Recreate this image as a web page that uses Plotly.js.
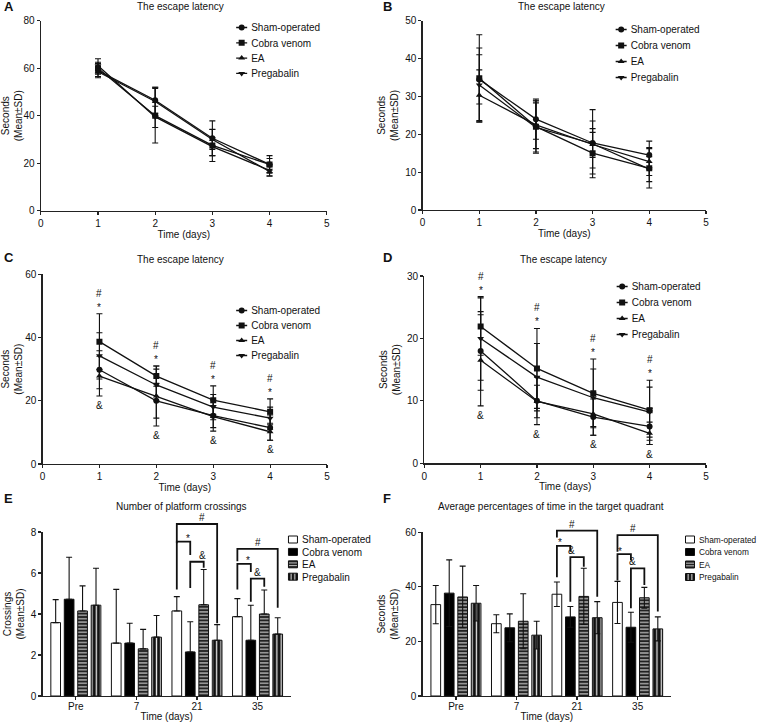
<!DOCTYPE html>
<html><head><meta charset="utf-8">
<script src="https://cdn.plot.ly/plotly-3.0.1.min.js"></script>
<style>html,body{margin:0;padding:0;background:#fff}#chart{width:762px;height:722px}</style>
</head><body><div id="chart"></div>
<script>
// ---------- DATA ----------
const groups = ['Sham-operated', 'Cobra venom', 'EA', 'Pregabalin'];
const days = [1, 2, 3, 4];
const timepoints = ['Pre', '7', '21', '35'];

// Panel A - escape latency (seconds)
const aSham = [59, 46.5, 30.5, 19.5],  aShamSD = [3, 5.5, 7.3, 2.5];
const aCobra = [60, 40, 27.5, 19.5],   aCobraSD = [2.5, 11.5, 6.8, 3.7];
const aEA = [58.5, 46, 30, 16.5],      aEASD = [2, 6, 4.2, 2];
const aPreg = [61, 39.5, 27, 17],      aPregSD = [3, 4.5, 3.8, 2.3];

// Panel B
const bSham = [34.5, 24, 17.7, 14.5],  bShamSD = [6.5, 5.3, 3.8, 3.7];
const bCobra = [34.8, 22, 15, 11],     bCobraSD = [11.5, 7, 5.5, 5.2];
const bEA = [30.3, 22.5, 17.3, 12.8],  bEASD = [6.7, 6.3, 6.2, 3.7];
const bPreg = [33, 21.8, 17.5, 10.8],  bPregSD = [9.8, 6.5, 9, 3.3];

// Panel C
const cSham = [29.8, 20, 15.3, 11.5],  cShamSD = [6, 5.5, 4.9, 4];
const cCobra = [38.7, 27.8, 20.2, 16.5], cCobraSD = [8.8, 3.2, 4.5, 4.1];
const cEA = [27.8, 21.5, 15, 10.2],    cEASD = [6.3, 9.5, 3.5, 2.7];
const cPreg = [34.2, 25, 18, 14.5],    cPregSD = [7.3, 5, 4, 3.5];

// Panel D
const dSham = [18, 10, 7.4, 5.9],      dShamSD = [6.3, 3.8, 2.9, 2.9];
const dCobra = [21.9, 15.2, 11.2, 8.5], dCobraSD = [4.6, 6.4, 5.5, 4.8];
const dEA = [16.5, 9.9, 7.9, 4.8],     dEASD = [7.3, 2.6, 3.4, 1.8];
const dPreg = [20, 13.8, 10.5, 8.2],   dPregSD = [6.7, 5.4, 4.6, 4];

// Panel E - number of platform crossings
const eSham = [3.58, 2.58, 4.15, 3.87],  eShamSD = [1.12, 2.62, 0.7, 0.88];
const eCobra = [4.72, 2.58, 2.15, 2.72], eCobraSD = [2.05, 0.97, 1.47, 1.71];
const eEA = [4.15, 2.3, 4.45, 4.0],      eEASD = [1.22, 0.95, 1.72, 1.17];
const ePreg = [4.43, 2.87, 2.72, 3.02],  ePregSD = [1.8, 1.06, 0.76, 0.8];

// Panel F - average percentage of time in target quadrant
const fSham = [33.5, 26.5, 37.3, 34.3],  fShamSD = [7, 3.3, 4.5, 7.7];
const fCobra = [37.7, 25, 29, 25.2],     fCobraSD = [12.2, 5.1, 3.8, 5.5];
const fEA = [36.3, 27.4, 36.5, 36],      fEASD = [11.3, 10.1, 10.3, 3.8];
const fPreg = [34, 22.3, 28.7, 24.6],    fPregSD = [6.5, 5.1, 5.9, 4.4];

// Significance brackets: time point index, bar a, bar b, crossbar height, left leg end, right leg end, label
const bracketsE = [
  [2, 0, 3, 8.39, 7.45, 3.55, '#'], [2, 0, 1, 7.53, 5.2, 6.88, '*'], [2, 1, 2, 6.55, 5.27, 6.26, '&'],
  [3, 0, 3, 7.18, 6.57, 4.3, '#'],  [3, 0, 1, 6.45, 5.2, 6.05, '*'], [3, 1, 2, 5.73, 4.6, 5.33, '&']
];
const bracketsF = [
  [2, 0, 3, 60.6, 58.1, 36.4, '#'], [2, 0, 1, 55, 43.5, 52.9, '*'], [2, 1, 2, 50.9, 34.5, 47.4, '&'],
  [3, 0, 3, 59, 52.9, 31, '#'],     [3, 0, 1, 52, 42.3, 49.8, '*'], [3, 1, 2, 46.8, 32.2, 40.7, '&']
];

// ---------- LAYOUT HELPERS ----------
const W = 762, H = 722;
const dx = (a, b) => [a / W, b / W];
const dy = (top, bottom) => [1 - bottom / H, 1 - top / H];
const INK = '#111';
const FONT = 'Liberation Sans, Arial, Helvetica, sans-serif';
const F10 = {size: 10, family: FONT, color: INK, weight: 'normal'};

const panels = {
  A: {x: dx(41, 328),     y: dy(20.7, 210.7), yr: [0, 80], dt: 20, ytitle: 'Seconds<br>(Mean±SD)'},
  B: {x: dx(424.3, 708.7), y: dy(20.7, 210),  yr: [0, 50], dt: 10, ytitle: 'Seconds<br>(Mean±SD)'},
  C: {x: dx(42.7, 328.3), y: dy(274.3, 464),  yr: [0, 60], dt: 20, ytitle: 'Seconds<br>(Mean±SD)'},
  D: {x: dx(426, 708.7),  y: dy(276, 463.3),  yr: [0, 30], dt: 10, ytitle: 'Seconds<br>(Mean±SD)'},
  E: {x: dx(42.7, 292),   y: dy(532, 696),    yr: [0, 8],  dt: 2,  ytitle: 'Crossings<br>(Mean±SD)'},
  F: {x: dx(424.3, 673.6), y: dy(532.3, 696), yr: [0, 60], dt: 20, ytitle: 'Seconds<br>(Mean±SD)'}
};
const barXRange = [-0.55, 3.55];

function baseAxis(o) {
  return Object.assign({
    showline: true, linecolor: '#222', linewidth: 1.2,
    ticks: 'outside', ticklen: 3, tickwidth: 1.2, tickcolor: '#222',
    showgrid: false, zeroline: false, fixedrange: true,
    tickfont: F10
  }, o);
}

const layout = {
  width: W, height: H, margin: {l: 0, r: 0, t: 0, b: 0},
  paper_bgcolor: '#fff', plot_bgcolor: '#fff',
  font: F10,
  barmode: 'group', bargap: 0.112, bargroupgap: 0.28,
  showlegend: true, annotations: [], shapes: []
};

const keys = ['A', 'B', 'C', 'D', 'E', 'F'];
keys.forEach((k, i) => {
  const p = panels[k];
  const n = i === 0 ? '' : String(i + 1);
  const isBar = (k === 'E' || k === 'F');
  layout['xaxis' + n] = baseAxis(Object.assign({
    domain: p.x, anchor: 'y' + n,
    title: {text: 'Time (days)', font: F10, standoff: 0}
  }, isBar ? {range: barXRange, tickvals: [0, 1, 2, 3], ticktext: timepoints, ticklabelstandoff: -2}
           : {range: [0, 5], dtick: 1, tick0: 0}));
  layout['yaxis' + n] = baseAxis({
    domain: p.y, anchor: 'x' + n, range: p.yr, dtick: p.dt, tick0: 0,
    title: {text: p.ytitle, font: F10, standoff: 4}
  });
});

// Legends
const legendBase = {xanchor: 'left', yanchor: 'top', bgcolor: 'rgba(0,0,0,0)', borderwidth: 0,
  font: F10, itemwidth: 30, tracegroupgap: 0, itemclick: false, itemdoubleclick: false};
layout.legend  = Object.assign({}, legendBase, {x: 212 / W, y: 1 - 13 / H});
layout.legend2 = Object.assign({}, legendBase, {x: 593 / W, y: 1 - 15 / H});
layout.legend3 = Object.assign({}, legendBase, {x: 212 / W, y: 1 - 296 / H});
layout.legend4 = Object.assign({}, legendBase, {x: 594 / W, y: 1 - 272 / H});
layout.legend5 = Object.assign({}, legendBase, {x: 263 / W, y: 1 - 525 / H});
layout.legend6 = Object.assign({}, legendBase, {x: 662 / W, y: 1 - 525 / H,
  font: {size: 8.3, family: FONT, color: INK, weight: 'normal'}});
const legendTweaks = [['legend', 15.3, 'line'], ['legend2', 16, 'line'], ['legend3', 15, 'line'],
  ['legend4', 16, 'line'], ['legend5', 12.4, 'bar'], ['legend6', 12.5, 'bar']];

// Titles and panel letters
const titles = [
  ['A', 'The escape latency', 181.7, 6, 2, 6],
  ['B', 'The escape latency', 564, 6, 383, 6],
  ['C', 'The escape latency', 181.7, 259, 2, 258],
  ['D', 'The escape latency', 566, 259, 383, 258],
  ['E', 'Number of platform crossings', 182, 506.7, 2, 498],
  ['F', 'Average percentages of time in the target quadrant', 552.7, 506.7, 383, 498]
];
titles.forEach(t => {
  layout.annotations.push({xref: 'paper', yref: 'paper', x: t[2] / W, y: 1 - t[3] / H, text: t[1],
    showarrow: false, xanchor: 'center', yanchor: 'middle', font: F10});
  layout.annotations.push({xref: 'paper', yref: 'paper', x: t[4] / W, y: 1 - t[5] / H, text: '<b>' + t[0] + '</b>',
    showarrow: false, xanchor: 'left', yanchor: 'middle', font: {size: 13, family: FONT, color: INK}});
});

// ---------- TRACES ----------
const symbols = ['circle', 'square', 'triangle-up', 'triangle-down'];
const lineData = {
  A: [[aSham, aShamSD], [aCobra, aCobraSD], [aEA, aEASD], [aPreg, aPregSD]],
  B: [[bSham, bShamSD], [bCobra, bCobraSD], [bEA, bEASD], [bPreg, bPregSD]],
  C: [[cSham, cShamSD], [cCobra, cCobraSD], [cEA, cEASD], [cPreg, cPregSD]],
  D: [[dSham, dShamSD], [dCobra, dCobraSD], [dEA, dEASD], [dPreg, dPregSD]]
};
const traces = [];
['A', 'B', 'C', 'D'].forEach((k, i) => {
  const n = i === 0 ? '' : String(i + 1);
  lineData[k].forEach((s, g) => {
    traces.push({
      type: 'scatter', mode: 'lines+markers', x: days, y: s[0], name: groups[g],
      xaxis: 'x' + n, yaxis: 'y' + n, legend: 'legend' + n,
      line: {color: INK, width: 1.3},
      marker: {symbol: symbols[g], size: 6, color: INK},
      error_y: {type: 'data', array: s[1], visible: true, color: INK, thickness: 1.1, width: 3},
      hoverinfo: 'skip'
    });
  });
});

// significance marks for C and D, placed from the data extremes
[['C', 'x3', 'y3'], ['D', 'x4', 'y4']].forEach(([k, xr, yr]) => {
  days.forEach((d, j) => {
    const tops = lineData[k].map(s => s[0][j] + s[1][j]);
    const bots = lineData[k].map(s => s[0][j] - s[1][j]);
    const top = Math.max(...tops), bot = Math.min(...bots);
    layout.annotations.push({xref: xr, yref: yr, x: d, y: top, text: '*', showarrow: false, yshift: 6.5, font: F10});
    layout.annotations.push({xref: xr, yref: yr, x: d, y: top, text: '#', showarrow: false, yshift: 20.5, font: F10});
    layout.annotations.push({xref: xr, yref: yr, x: d, y: bot, text: '&', showarrow: false, yshift: -9.5, font: F10});
  });
});

const barStyles = [
  {color: '#ffffff', line: {color: INK, width: 1}},
  {color: '#000000', line: {color: INK, width: 1}},
  {color: '#222222', line: {color: INK, width: 1},
   pattern: {shape: '-', fgcolor: '#d0d0d0', bgcolor: '#222222', size: 3.4, solidity: 0.33, fillmode: 'replace'}},
  {color: '#111111', line: {color: INK, width: 1},
   pattern: {shape: '|', fgcolor: '#e8e8e8', bgcolor: '#111111', size: 4.3, solidity: 0.3, fillmode: 'replace'}}
];
const barData = {
  E: [[eSham, eShamSD], [eCobra, eCobraSD], [eEA, eEASD], [ePreg, ePregSD]],
  F: [[fSham, fShamSD], [fCobra, fCobraSD], [fEA, fEASD], [fPreg, fPregSD]]
};
[['E', '5', true], ['F', '6', false]].forEach(([k, n, upOnly]) => {
  barData[k].forEach((s, g) => {
    const ey = upOnly
      ? {type: 'data', symmetric: false, array: s[1], arrayminus: s[1].map(() => 0), visible: true, color: INK, thickness: 1.1, width: 3}
      : {type: 'data', array: s[1], visible: true, color: INK, thickness: 1.1, width: 3};
    traces.push({
      type: 'bar', x: [0, 1, 2, 3], y: s[0], name: groups[g],
      xaxis: 'x' + n, yaxis: 'y' + n, legend: 'legend' + n,
      marker: barStyles[g], error_y: ey, hoverinfo: 'skip'
    });
  });
});

// brackets for E and F (data values converted to paper fraction via the axis domain/range)
const slot = (1 - layout.bargap) / 4;
function toPaper(dom, rng, v) { return dom[0] + (v - rng[0]) / (rng[1] - rng[0]) * (dom[1] - dom[0]); }
[['E', bracketsE], ['F', bracketsF]].forEach(([k, list]) => {
  const p = panels[k];
  list.forEach(b => {
    const xa = toPaper(p.x, barXRange, b[0] + (b[1] - 1.5) * slot);
    const xb = toPaper(p.x, barXRange, b[0] + (b[2] - 1.5) * slot);
    const yt = toPaper(p.y, p.yr, b[3]);
    const y0 = toPaper(p.y, p.yr, b[4]);
    const y1 = toPaper(p.y, p.yr, b[5]);
    layout.shapes.push({type: 'path', xref: 'paper', yref: 'paper',
      path: `M${xa},${y0} L${xa},${yt} L${xb},${yt} L${xb},${y1}`,
      line: {color: INK, width: 1.8}});
    layout.annotations.push({xref: 'paper', yref: 'paper', x: (xa + xb) / 2, y: yt, text: b[6],
      showarrow: false, yanchor: 'middle', yshift: b[6] === '*' ? 3 : 6.5, font: F10});
  });
});

Plotly.newPlot('chart', traces, layout, {staticPlot: true, displayModeBar: false}).then(gd => {
  // tighten legend rows and shorten legend symbols to match the compact original legends
  legendTweaks.forEach(([id, sp, kind]) => {
    const lg = gd.querySelector('g.' + id);
    if (!lg) return;
    const items = lg.querySelectorAll('g.traces');
    let y0 = null;
    items.forEach((it, i) => {
      const tr = it.getAttribute('transform') || '';
      const m = tr.match(/translate\(\s*([-\d.e]+)[ ,]+([-\d.e]+)\s*\)/);
      if (!m) return;
      const x = parseFloat(m[1]), y = parseFloat(m[2]);
      if (y0 === null) y0 = y;
      it.setAttribute('transform', `translate(${x},${y0 + i * sp})`);
      if (kind === 'line') {
        it.querySelectorAll('.legendlines path').forEach(p => p.setAttribute('d', 'M25,0h11'));
        it.querySelectorAll('.legendpoints path').forEach(p => p.setAttribute('transform', 'translate(30.5,0)'));
      } else {
        it.querySelectorAll('.legendpoints path').forEach(p => {
          p.setAttribute('d', 'M4.5,3.5H-4.5V-3.5H4.5Z');
          p.setAttribute('transform', 'translate(31,0)');
        });
      }
    });
  });
});
</script>
</body></html>
